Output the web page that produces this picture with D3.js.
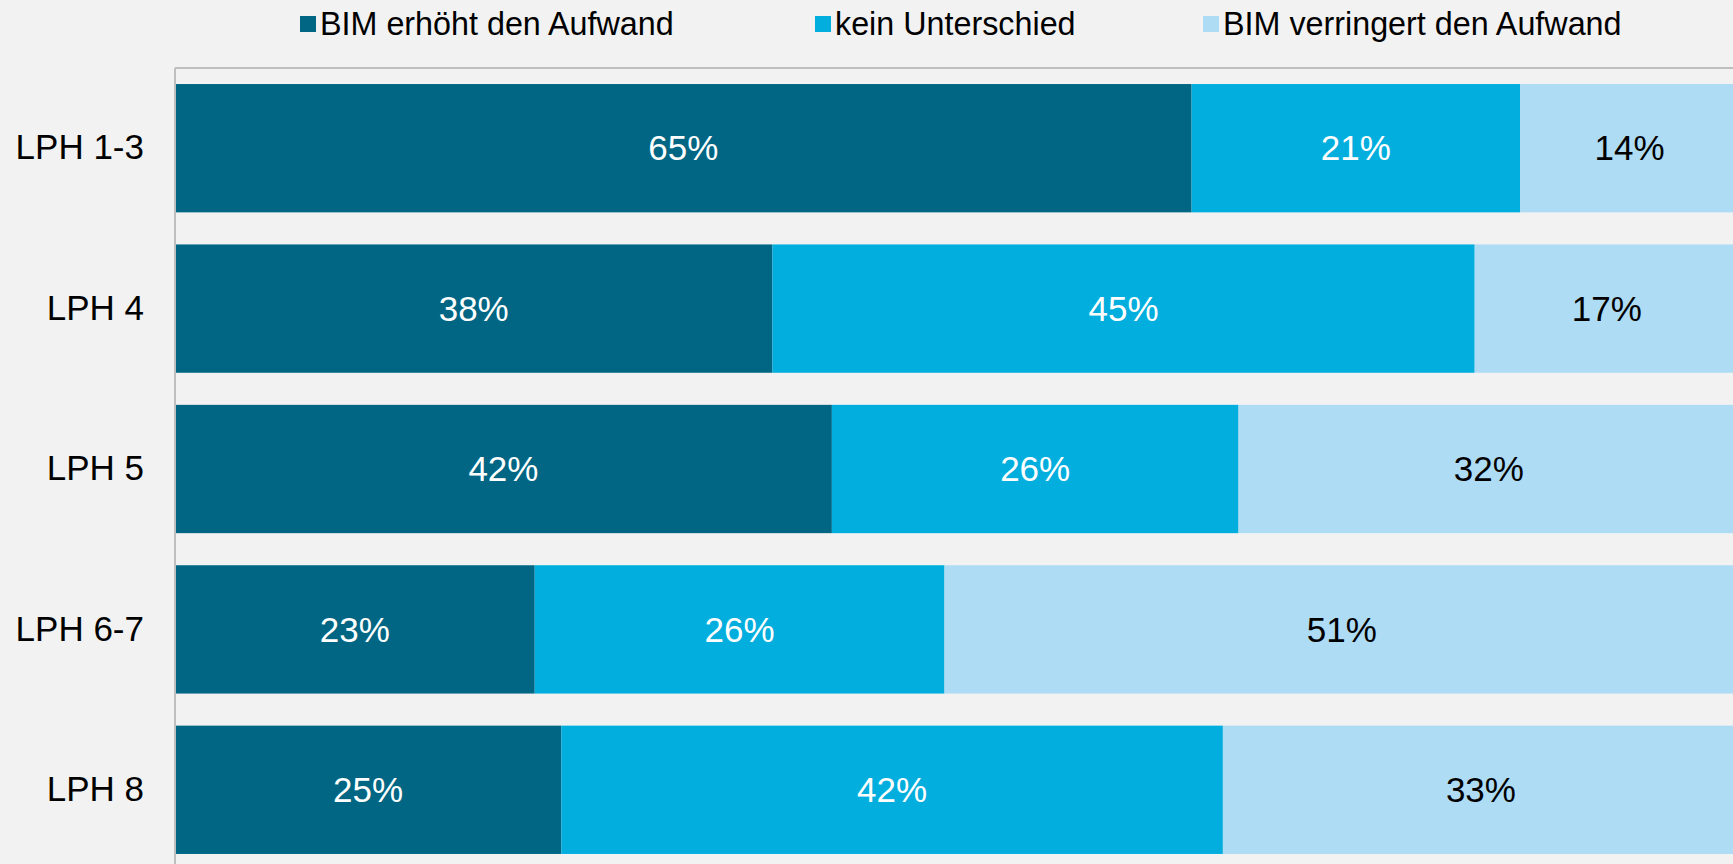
<!DOCTYPE html>
<html><head><meta charset="utf-8">
<script src="https://cdn.jsdelivr.net/npm/d3@7"></script>
<style>html,body{margin:0;padding:0;background:#F2F2F2;overflow:hidden}</style>
</head><body>
<svg id="chart" width="1733" height="864"></svg>
<script>
const categories = ["LPH 1-3", "LPH 4", "LPH 5", "LPH 6-7", "LPH 8"];
const seriesNames = ["BIM erhöht den Aufwand", "kein Unterschied", "BIM verringert den Aufwand"];
const erhoeht = [65, 38.2, 42, 23, 24.7];
const keinUnterschied = [21, 44.9, 26, 26.2, 42.3];
const verringert = [14, 16.9, 32, 50.8, 33];
const colors = ["#006683", "#02AEDE", "#AEDCF4"];
const labelColors = ["#FFFFFF", "#FFFFFF", "#000000"];

(function () {
const svg = d3.select("#chart");
const W = 1733, H = 864;
svg.append("rect").attr("width", W).attr("height", H).attr("fill", "#F2F2F2");

const pL = 175, pR = 1739, pT = 68, pB = 870;
const x = d3.scaleLinear().domain([0, 100]).range([pL, pR]);
const y = d3.scaleBand().domain(categories).range([pT, pB]).paddingInner(0.2).paddingOuter(0.1);

const rows = categories.map((c, i) => ({cat: c, vals: [erhoeht[i], keinUnterschied[i], verringert[i]]}));
const stack = d3.stack().keys([0, 1, 2]).value((d, k) => d.vals[k]);
const layers = stack(rows);

svg.append("line").attr("x1", pL).attr("x2", W).attr("y1", pT).attr("y2", pT)
  .attr("stroke", "#BFBFBF").attr("stroke-width", 2);

layers.forEach((layer, k) => {
  const g = svg.append("g");
  g.selectAll("rect").data(layer).enter().append("rect")
    .attr("x", d => x(d[0]))
    .attr("width", d => x(d[1]) - x(d[0]))
    .attr("y", d => y(d.data.cat))
    .attr("height", y.bandwidth())
    .attr("fill", colors[k]);
  g.selectAll("text").data(layer).enter().append("text")
    .attr("x", d => (x(d[0]) + x(d[1])) / 2)
    .attr("y", d => y(d.data.cat) + y.bandwidth() / 2)
    .attr("dy", "0.35em")
    .attr("text-anchor", "middle")
    .attr("font-family", "Liberation Sans, Arial, sans-serif")
    .attr("font-size", 35)
    .attr("fill", labelColors[k])
    .text(d => Math.round(d.data.vals[k]) + "%");
});

const yAxis = d3.axisLeft(y).tickSize(0).tickPadding(31);
const ag = svg.append("g").attr("transform", `translate(${pL},0)`).call(yAxis);
ag.select(".domain").attr("stroke", "#BFBFBF").attr("stroke-width", 2)
  .attr("d", `M0,${pT}V${H + 10}`);
ag.selectAll("text").attr("font-family", "Liberation Sans, Arial, sans-serif")
  .attr("font-size", 35).attr("fill", "#000");

const legendX = [300, 815, 1203];
const lg = svg.append("g");
seriesNames.forEach((n, k) => {
  lg.append("rect").attr("x", legendX[k]).attr("y", 16).attr("width", 16).attr("height", 16).attr("fill", colors[k]);
  lg.append("text").attr("x", legendX[k] + 20).attr("y", 35)
    .attr("font-family", "Liberation Sans, Arial, sans-serif").attr("font-size", 32.3)
    .attr("fill", "#000").text(n);
});
})();
</script>
</body></html>
